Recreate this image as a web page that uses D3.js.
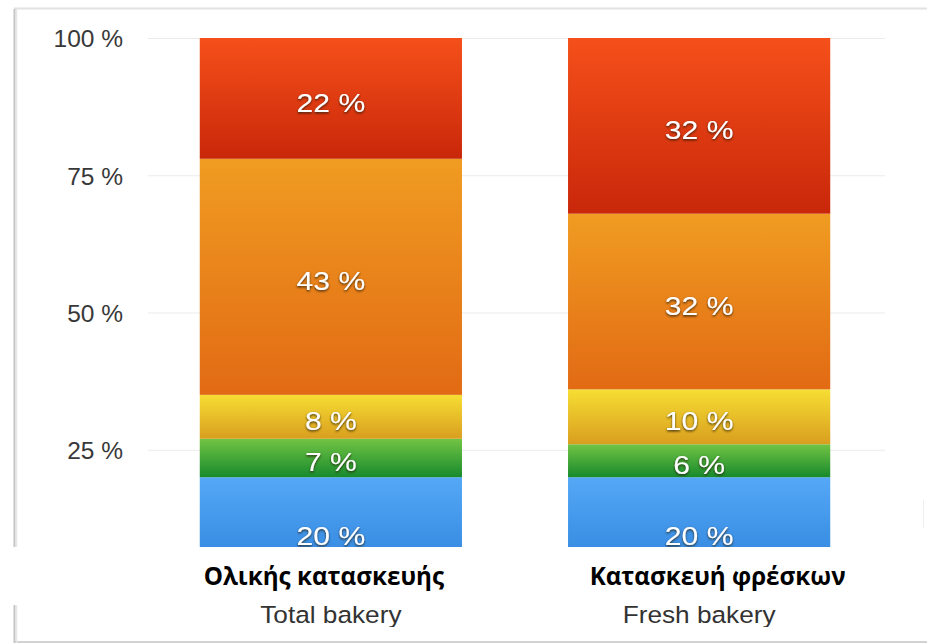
<!DOCTYPE html>
<html>
<head>
<meta charset="utf-8">
<script src="https://cdn.jsdelivr.net/npm/d3@7"></script>
<style>
  html, body { margin: 0; padding: 0; background: #ffffff; }
  svg { display: block; }
</style>
</head>
<body>
<svg id="chart" width="927" height="644"></svg>
<script>
// ---- data ----
const categories = ["Total bakery", "Fresh bakery"];
const greekLabels = ["Ολικής κατασκευής", "Κατασκευή φρέσκων"];
const seriesKeys = ["blue", "green", "yellow", "orange", "red"];
const blueValues = [20, 20];
const greenValues = [7, 6];
const yellowValues = [8, 10];
const orangeValues = [43, 32];
const redValues = [22, 32];
const tickValues = [25, 50, 75, 100];
const tickLabels = ["25 %", "50 %", "75 %", "100 %"];

const seriesColors = {
  blue:   ["#55a8f6", "#2a7fd9"],
  green:  ["#72c444", "#178a2c"],
  yellow: ["#f6de33", "#d99e1f"],
  orange: ["#f09c22", "#e26a14"],
  red:    ["#f5501a", "#c9270a"]
};

const rows = categories.map((c, i) => ({
  category: c,
  blue: blueValues[i], green: greenValues[i], yellow: yellowValues[i],
  orange: orangeValues[i], red: redValues[i]
}));

const svg = d3.select("#chart");
const W = 927, H = 644;

const y = d3.scaleLinear().domain([0, 100]).range([587, 38]);
const x = d3.scaleBand().domain(categories).range([146, 884])
  .paddingInner(0.288).paddingOuter(0.146);

const defs = svg.append("defs");
seriesKeys.forEach(k => {
  const g = defs.append("linearGradient").attr("id", "grad-" + k)
    .attr("x1", 0).attr("y1", 0).attr("x2", 0).attr("y2", 1);
  g.append("stop").attr("offset", "0%").attr("stop-color", seriesColors[k][0]);
  g.append("stop").attr("offset", "100%").attr("stop-color", seriesColors[k][1]);
});
const shadow = defs.append("filter").attr("id", "emboss")
  .attr("x", "-20%").attr("y", "-30%").attr("width", "140%").attr("height", "160%");
shadow.append("feDropShadow").attr("dx", 0).attr("dy", 1.3)
  .attr("stdDeviation", 0.9).attr("flood-color", "#2a1a10").attr("flood-opacity", 0.9);

defs.append("clipPath").attr("id", "plotClip")
  .append("rect").attr("x", 0).attr("y", 0).attr("width", W).attr("height", 547);
defs.append("clipPath").attr("id", "engClip")
  .append("rect").attr("x", 0).attr("y", 600).attr("width", W).attr("height", 27);

// ---- frame ----
const frame = svg.append("g");
frame.append("line").attr("x1", 14).attr("x2", W).attr("y1", 8.5).attr("y2", 8.5)
  .attr("stroke", "#e2e2e2").attr("stroke-width", 2);
frame.append("line").attr("x1", 14).attr("x2", W).attr("y1", 642).attr("y2", 642)
  .attr("stroke", "#d2d2d2").attr("stroke-width", 2);
[[9, 547], [605, 643]].forEach(([a, b]) => {
  frame.append("line").attr("x1", 14.5).attr("x2", 14.5).attr("y1", a).attr("y2", b)
    .attr("stroke", "#c4c4c4").attr("stroke-width", 2);
  frame.append("line").attr("x1", 16.5).attr("x2", 16.5).attr("y1", a).attr("y2", b)
    .attr("stroke", "#e6e6e6").attr("stroke-width", 1.5);
});
frame.append("line").attr("x1", 923.5).attr("x2", 923.5).attr("y1", 500).attr("y2", 528)
  .attr("stroke", "#efefef").attr("stroke-width", 1);

// ---- plot ----
const plot = svg.append("g").attr("clip-path", "url(#plotClip)");

const axis = d3.axisLeft(y).tickValues(tickValues)
  .tickFormat((d, i) => tickLabels[i])
  .tickSizeInner(-(885 - 148)).tickSizeOuter(0).tickPadding(25);
const ax = plot.append("g").attr("transform", "translate(148,0)").call(axis);
ax.select(".domain").remove();
ax.selectAll(".tick line").attr("stroke", "#ebebeb").attr("stroke-width", 1.2);
ax.selectAll(".tick text")
  .attr("font-family", "'Liberation Sans', Arial, Helvetica, sans-serif")
  .attr("font-size", 24.5).attr("fill", "#383838").attr("dy", "0.36em");

const stacked = d3.stack().keys(seriesKeys)(rows);

const layers = plot.selectAll(".layer").data(stacked).join("g").attr("class", "layer");
layers.selectAll("rect").data(d => d.map(p => ({ key: d.key, p })))
  .join("rect")
  .attr("x", d => x(d.p.data.category))
  .attr("width", x.bandwidth())
  .attr("y", d => y(d.p[1]))
  .attr("height", d => y(d.p[0]) - y(d.p[1]))
  .attr("fill", d => "url(#grad-" + d.key + ")");

layers.selectAll("text").data(d => d.map(p => ({ key: d.key, p })))
  .join("text")
  .attr("transform", d => {
    const cx = x(d.p.data.category) + x.bandwidth() / 2;
    const cy = (y(d.p[0]) + y(d.p[1])) / 2 + 4;
    return `translate(${cx},${cy}) scale(1.16,1)`;
  })
  .attr("text-anchor", "middle")
  .attr("dy", "0.36em")
  .attr("font-family", "'Liberation Sans', Arial, Helvetica, sans-serif")
  .attr("font-size", 26)
  .attr("fill", "#ffffff")
  .attr("filter", "url(#emboss)")
  .text(d => (d.p[1] - d.p[0]) + " %");

// ---- category labels ----
const greekOffsets = [-7, 18.5];
svg.append("g").selectAll("text").data(categories).join("text")
  .attr("x", (d, i) => x(d) + x.bandwidth() / 2 + greekOffsets[i])
  .attr("y", 585)
  .attr("text-anchor", "middle")
  .attr("font-family", "'Open Sans', 'Noto Sans', sans-serif")
  .attr("font-weight", 700)
  .attr("font-size", 24.2)
  .attr("fill", "#000000")
  .text((d, i) => greekLabels[i]);

svg.append("g").attr("clip-path", "url(#engClip)")
  .selectAll("text").data(categories).join("text")
  .attr("transform", d => `translate(${x(d) + x.bandwidth() / 2},623) scale(1.07,1)`)
  .attr("text-anchor", "middle")
  .attr("font-family", "'Liberation Sans', Arial, Helvetica, sans-serif")
  .attr("font-size", 24.5)
  .attr("fill", "#333333")
  .text(d => d);
</script>
</body>
</html>
